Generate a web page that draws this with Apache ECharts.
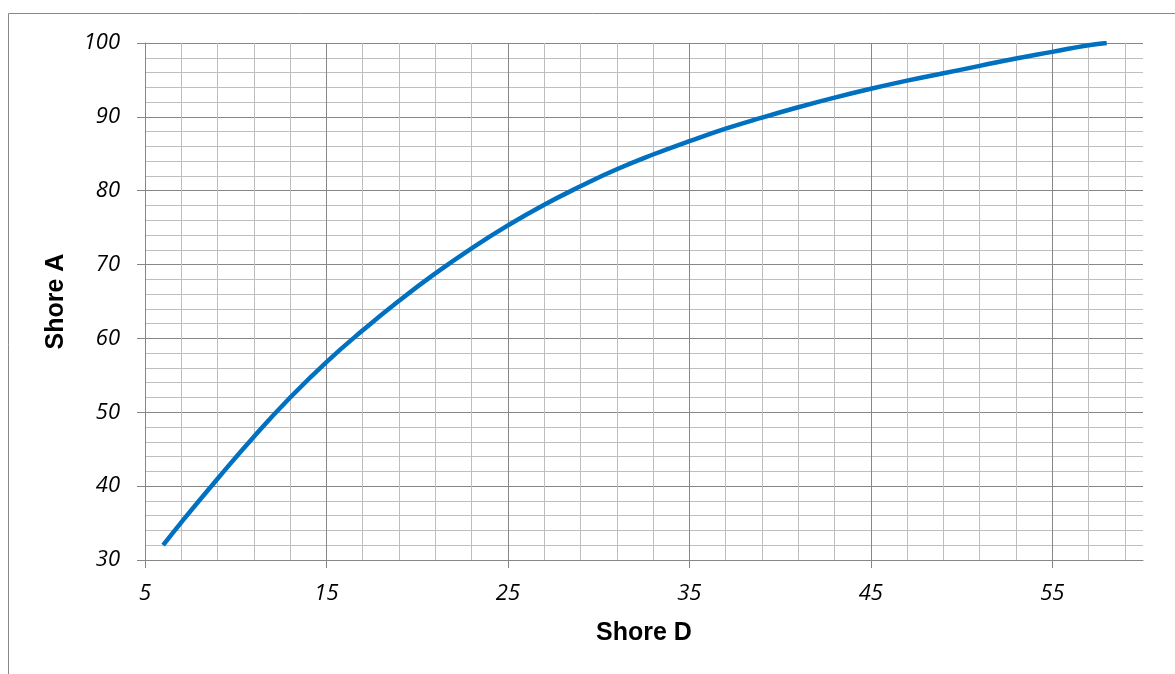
<!DOCTYPE html>
<html>
<head>
<meta charset="utf-8">
<script src="https://cdn.jsdelivr.net/npm/echarts@6/dist/echarts.min.js"></script>
<style>
  html, body { margin: 0; padding: 0; background: #fff; }
  #chart { width: 1175px; height: 674px; }
</style>
</head>
<body>
<div id="chart"></div>
<script>
// Shore D -> Shore A conversion curve
const shoreD = [6, 7, 9, 11, 13, 15, 17, 19, 21, 23, 25, 27, 29, 31, 33, 35, 37, 39, 41, 43, 45, 47, 49, 51, 53, 55, 57, 58];
const shoreA = [32.0, 35.1, 41.0, 46.7, 52.0, 56.8, 61.1, 65.1, 68.8, 72.2, 75.3, 78.1, 80.6, 82.9, 84.9, 86.7, 88.4, 89.9, 91.3, 92.6, 93.8, 94.9, 95.9, 96.9, 97.9, 98.8, 99.7, 100];

// axis ticks
const xMajorTicks = [5, 15, 25, 35, 45, 55];
const xMinorTicks = [7, 9, 11, 13, 17, 19, 21, 23, 27, 29, 31, 33, 37, 39, 41, 43, 47, 49, 51, 53, 57, 59];

const MAJOR = '#878787';
const MINOR = '#bebebe';
const labelFont = { fontFamily: 'Open Sans', fontStyle: 'italic', fontSize: 22, color: '#000' };
const nameFont = { fontFamily: 'Liberation Sans', fontWeight: 'bold', fontSize: 25, color: '#000' };

const chart = echarts.init(document.getElementById('chart'));

chart.setOption({
    animation: false,
    graphic: [{
        type: 'rect',
        shape: { x: 8.5, y: 13.5, width: 1300, height: 800 },
        style: { fill: 'none', stroke: '#888', lineWidth: 1 },
        silent: true
    }],
    grid: { left: 145, top: 43, right: 32, bottom: 114 },
    xAxis: [
        {
            // major: labels, ticks, main grid
            type: 'value', min: 5, max: 60,
            name: 'Shore D', nameLocation: 'middle', nameGap: 61,
            nameTextStyle: nameFont,
            axisLine: { show: true, lineStyle: { color: MAJOR, width: 1 } },
            axisTick: { show: true, length: 8, customValues: xMajorTicks, lineStyle: { color: MAJOR } },
            axisLabel: Object.assign({ margin: 23, customValues: xMajorTicks }, labelFont),
            splitLine: { show: true, lineStyle: { color: MAJOR, width: 1 } },
            z: 3
        },
        {
            // minor grid only
            type: 'value', min: 5, max: 60, position: 'bottom',
            axisLine: { show: false },
            axisTick: { show: false, customValues: xMinorTicks },
            axisLabel: { show: false },
            splitLine: { show: true, lineStyle: { color: MINOR, width: 1 } },
            z: 1
        }
    ],
    yAxis: {
        type: 'value', min: 30, max: 100, interval: 10,
        name: 'Shore A', nameLocation: 'middle', nameGap: 76,
        nameTextStyle: nameFont,
        axisLine: { show: true, lineStyle: { color: MAJOR, width: 1 } },
        axisTick: { show: true, length: 8, lineStyle: { color: MAJOR } },
        axisLabel: Object.assign({ margin: 25 }, labelFont),
        splitLine: { show: true, lineStyle: { color: MAJOR, width: 1 } },
        minorTick: { show: false, splitNumber: 5 },
        minorSplitLine: { show: true, lineStyle: { color: MINOR, width: 1 } }
    },
    series: [{
        type: 'line',
        xAxisIndex: 0,
        data: shoreD.map((d, i) => [d, shoreA[i]]),
        smooth: true,
        symbol: 'none',
        lineStyle: { color: '#0070c0', width: 4.5 },
        z: 5
    }]
});
</script>
</body>
</html>
